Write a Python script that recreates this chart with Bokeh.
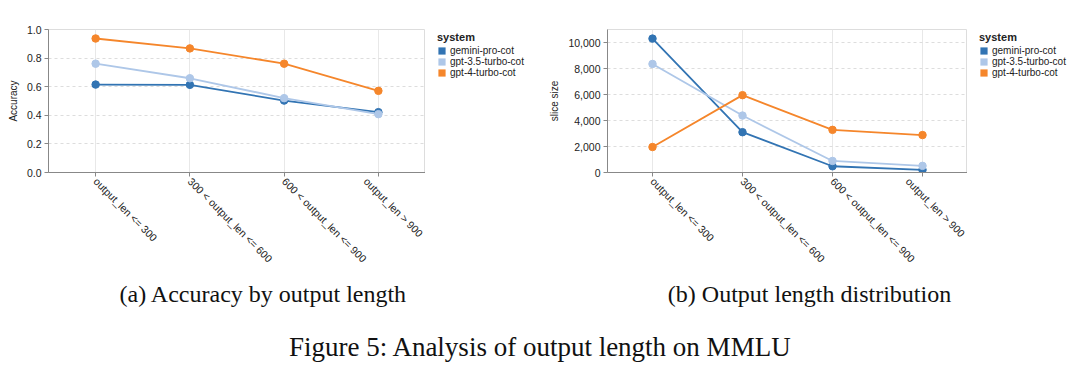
import math
from bokeh.plotting import figure
from bokeh.layouts import column, row
from bokeh.models import (Range1d, FactorRange, SingleIntervalTicker, NumeralTickFormatter,
                          Legend, LegendItem, Label)
from bokeh.embed import file_html
from bokeh.resources import INLINE

# ---------------- data ----------------
categories = ["output_len <= 300", "300 < output_len <= 600",
              "600 < output_len <= 900", "output_len > 900"]
systems = ["gemini-pro-cot", "gpt-3.5-turbo-cot", "gpt-4-turbo-cot"]
colors = ["#3274b3", "#aec7e8", "#f5862b"]

acc_gemini = [0.615, 0.613, 0.503, 0.422]
acc_gpt35 = [0.761, 0.659, 0.520, 0.408]
acc_gpt4 = [0.937, 0.868, 0.761, 0.571]

size_gemini = [10300, 3100, 480, 200]
size_gpt35 = [8350, 4380, 890, 510]
size_gpt4 = [1960, 5950, 3280, 2880]

caption_a = "(a) Accuracy by output length"
caption_b = "(b) Output length distribution"
caption_fig = "Figure 5: Analysis of output length on MMLU"

SANS = "Liberation Sans"
SERIF = "Liberation Serif"

H = 270          # height of each chart panel
TOP = 29         # frame top
FH = 143         # frame height


def make_chart(series, ylabel, yrange, interval, fmt, left, fwidth):
    p = figure(x_range=FactorRange(*categories), y_range=yrange,
               frame_width=fwidth, frame_height=FH,
               min_border_left=left, min_border_right=0,
               min_border_top=TOP, min_border_bottom=H - TOP - FH,
               output_backend="svg", toolbar_location=None,
               background_fill_color="white", border_fill_color="white")
    p.outline_line_color = "#dddddd"
    p.xgrid.grid_line_color = "#e8e8e8"
    p.ygrid.grid_line_color = "#dddddd"
    p.ygrid.grid_line_dash = "3 3"
    for ax in (p.xaxis[0], p.yaxis[0]):
        ax.axis_line_color = "#888888"
        ax.major_tick_line_color = "#888888"
        ax.major_tick_in = 0
        ax.major_tick_out = 4
        ax.minor_tick_line_color = None
        ax.major_label_text_font = SANS
        ax.major_label_text_font_size = "10.5px"
        ax.major_label_text_color = "#222222"
        ax.major_label_standoff = 3
    p.xaxis.major_label_orientation = -math.pi / 4
    p.yaxis.ticker = SingleIntervalTicker(interval=interval, num_minor_ticks=0)
    p.yaxis.formatter = NumeralTickFormatter(format=fmt)
    p.yaxis.axis_label = ylabel
    p.yaxis.axis_label_text_font = SANS
    p.yaxis.axis_label_text_font_size = "10px"
    p.yaxis.axis_label_text_font_style = "normal"
    p.yaxis.axis_label_text_color = "#222222"
    p.yaxis.axis_label_standoff = 5

    for vals, c in zip(series, colors):
        p.line(categories, vals, line_color=c, line_width=1.8)
        p.scatter(categories, vals, size=7.5, fill_color=c, line_color=c)
    return p


def make_legend(series, width):
    # same vertical structure as the chart panels, so the row lays it out identically
    lf = figure(frame_width=width, frame_height=FH,
                x_range=FactorRange(*categories), y_range=Range1d(0, 1),
                x_axis_type=None, y_axis_type=None,
                min_border_left=0, min_border_right=0,
                min_border_top=TOP, min_border_bottom=H - TOP - FH,
                output_backend="svg", toolbar_location=None,
                background_fill_color="white", border_fill_color="white")
    lf.grid.visible = False
    lf.outline_line_color = None
    items = []
    for name, vals, c in zip(systems, series, colors):
        # hidden bar renderer: only supplies the square legend swatch
        r = lf.vbar(x=categories, top=vals, width=0.5, fill_color=c, line_color=None, visible=False)
        items.append(LegendItem(label=name, renderers=[r]))
    leg = Legend(items=items, location=(12, FH - 49),
                 title="system", title_text_font=SANS, title_text_font_size="11px",
                 title_text_font_style="bold", title_text_color="#222222", title_standoff=2,
                 label_text_font=SANS, label_text_font_size="10px", label_text_color="#222222",
                 glyph_width=9, glyph_height=9, label_standoff=4, label_height=11, spacing=0,
                 padding=0, margin=0, border_line_color=None, background_fill_alpha=0,
                 inactive_fill_alpha=0)
    lf.add_layout(leg, "center")
    return lf


p1 = make_chart([acc_gemini, acc_gpt35, acc_gpt4], "Accuracy", Range1d(0, 1.0), 0.2, "0.0",
                48, 377)
l1 = make_legend([acc_gemini, acc_gpt35, acc_gpt4], 540 - 48 - 377)
p2 = make_chart([size_gemini, size_gpt35, size_gpt4], "slice size", Range1d(0, 11000), 2000, "0,0",
                67, 360)
l2 = make_legend([size_gemini, size_gpt35, size_gpt4], 540 - 67 - 360)

H3 = 375 - H
p3 = figure(width=1080, height=H3, x_range=(0, 1), y_range=(0, 1), x_axis_type=None, y_axis_type=None,
            output_backend="svg", toolbar_location=None, min_border=0,
            background_fill_color="white", border_fill_color="white")
p3.grid.visible = False
p3.outline_line_color = None
for txt, cx, cy, fs in [(caption_a, 263, 292, "24px"), (caption_b, 809, 292, "24px"),
                        (caption_fig, 540, 345, "27px")]:
    p3.add_layout(Label(x=cx, y=375 - cy, x_units="screen", y_units="screen", text=txt,
                        text_font=SERIF, text_font_size=fs, text_align="center",
                        text_baseline="middle", text_color="#111111"))

layout = column(row(p1, l1, p2, l2, spacing=0), p3, spacing=0)
open("out.html", "w").write(file_html(layout, INLINE))
